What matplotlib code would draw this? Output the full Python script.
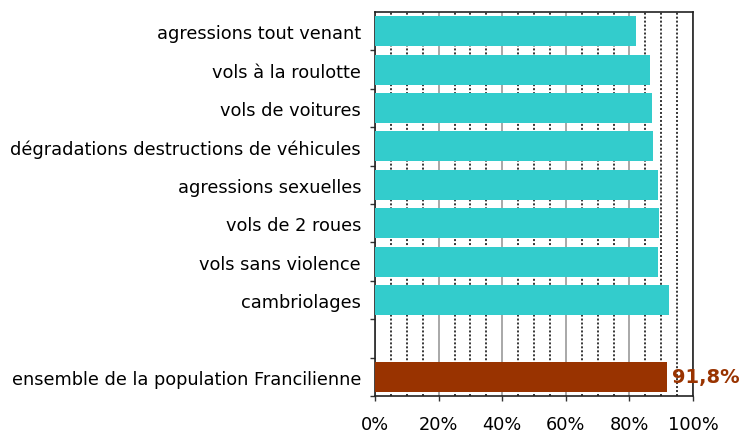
import matplotlib
matplotlib.use("Agg")
import matplotlib.pyplot as plt
import numpy as np
from matplotlib.ticker import MultipleLocator, FixedLocator, FuncFormatter

categories = ["agressions tout venant", "vols à la roulotte", "vols de voitures",
              "dégradations destructions de véhicules", "agressions sexuelles",
              "vols de 2 roues", "vols sans violence", "cambriolages",
              "ensemble de la population Francilienne"]
values = [82.1, 86.5, 87.2, 87.5, 89.0, 89.4, 89.0, 92.5, 91.8]
value_label = "91,8%"

plt.rcParams['font.family'] = ['DejaVu Sans']

fig = plt.figure(figsize=(7.44, 4.39), dpi=100)
ax = fig.add_axes([375/744, 1-397/439, (693-375)/744, (397-13)/439])

ypos = list(range(len(categories) - 1)) + [len(categories)]
colors = ["#33CCCC"] * (len(categories) - 1) + ["#993300"]

ax.barh(ypos, values, height=0.78, color=colors, zorder=3)
ax.set_xlim(0, 100)
ax.set_ylim(len(categories) + 0.5, -0.5)

# gridlines
ax.xaxis.set_major_locator(MultipleLocator(20))
ax.xaxis.set_minor_locator(FixedLocator([v for v in range(5, 100, 5) if v % 20 != 0]))
ax.grid(axis='x', which='major', color='#999999', linewidth=1.2, zorder=1)
ax.grid(axis='x', which='minor', color='black', linewidth=1.1, linestyle=(0, (1.3, 1.3)), zorder=1)
ax.tick_params(axis='x', which='minor', length=0)
ax.tick_params(axis='x', which='major', direction='out', length=3.6, width=1, color='#333333',
               labelsize=12.8, pad=10)
ax.xaxis.set_major_formatter(FuncFormatter(lambda v, p: f"{int(v)}%"))

ax.set_yticks(ypos)
ax.set_yticklabels(categories)
ax.yaxis.set_minor_locator(FixedLocator(np.arange(0.5, len(categories) + 1, 1.0)))
ax.tick_params(axis='y', which='major', length=0, labelsize=12.8, pad=10)
ax.tick_params(axis='y', which='minor', direction='out', length=3.6, width=1, color='#333333')

for s in ax.spines.values():
    s.set_color('#222222')
    s.set_linewidth(1.2)

ax.text(values[-1] + 1.5, ypos[-1], value_label, color="#993300", fontsize=14,
        fontweight='bold', va='center', ha='left', zorder=5, clip_on=False)

fig.savefig("out.png", dpi=100)
